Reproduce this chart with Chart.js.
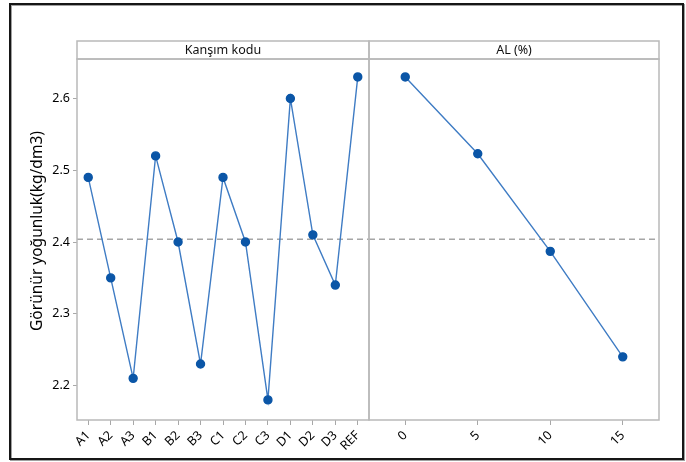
<!DOCTYPE html>
<html>
<head>
<meta charset="utf-8">
<script src="https://cdn.jsdelivr.net/npm/chart.js@4/dist/chart.umd.min.js"></script>
<style>
  html, body { margin: 0; padding: 0; background: #fff; }
  #wrap { position: relative; width: 686px; height: 462px; overflow: hidden; background: #fff; }
  canvas { position: absolute; top: 0; }
  #frame {
    position: absolute; left: 9px; top: 3px; width: 671px; height: 453px;
    border: 2px solid #161616;
    box-shadow: inset 1px 1px 0 #a0a0a0, 1px 1px 0 #a0a0a0;
    pointer-events: none;
  }
</style>
</head>
<body>
<div id="wrap">
  <canvas id="mixChart" width="370" height="462" style="left:0;width:370px;height:462px"></canvas>
  <canvas id="alChart" width="326" height="462" style="left:360px;width:326px;height:462px"></canvas>
  <div id="frame"></div>
</div>
<script>
// Main effects for apparent density (kg/dm3)
const mixCodes = ['A1', 'A2', 'A3', 'B1', 'B2', 'B3', 'C1', 'C2', 'C3', 'D1', 'D2', 'D3', 'REF'];
const mixMeans = [2.49, 2.35, 2.21, 2.52, 2.40, 2.23, 2.49, 2.40, 2.18, 2.60, 2.41, 2.34, 2.63];
const alLevels = ['0', '5', '10', '15'];
const alMeans = [2.63, 2.523, 2.387, 2.24];
const grandMean = 2.404;
const yTicks = [2.2, 2.3, 2.4, 2.5, 2.6];
const yRange = [2.152, 2.655];
const yTitle = 'Görünür yoğunluk(kg/dm3)';

const FONT = '"Noto Sans", "Open Sans", sans-serif';
const BORDER_GREY = '#b9b9b9';
const TICK_GREY = '#a8a8a8';

// Mean reference line under the data; panel box, factor header strip and axis title on top
const panelPlugin = {
  id: 'panel',
  beforeDatasetsDraw(chart) {
    const { ctx, chartArea: a } = chart;
    const y = chart.scales.y.getPixelForValue(grandMean);
    ctx.save();
    ctx.strokeStyle = '#a6a6a6';
    ctx.lineWidth = 1.5;
    ctx.setLineDash([6, 4]);
    ctx.beginPath();
    ctx.moveTo(a.left, y);
    ctx.lineTo(a.right, y);
    ctx.stroke();
    ctx.restore();
  },
  afterDraw(chart, args, opts) {
    const { ctx, chartArea: a } = chart;
    const stripH = 18;
    ctx.save();
    ctx.strokeStyle = BORDER_GREY;
    ctx.lineWidth = 1.5;
    ctx.strokeRect(a.left, a.top, a.right - a.left, a.bottom - a.top);
    ctx.strokeRect(a.left, a.top - stripH, a.right - a.left, stripH);
    ctx.fillStyle = '#111';
    ctx.font = '12.5px ' + FONT;
    ctx.textAlign = 'center';
    ctx.textBaseline = 'middle';
    ctx.fillText(opts.label, (a.left + a.right) / 2, a.top - stripH / 2);
    if (opts.title) {
      ctx.translate(38, 231);
      ctx.rotate(-Math.PI / 2);
      ctx.font = '15.5px ' + FONT;
      ctx.fillStyle = '#000';
      ctx.fillText(opts.title, 0, 0);
    }
    ctx.restore();
  }
};

function makeChart(id, labels, values, header, showY, padding) {
  return new Chart(document.getElementById(id), {
    type: 'line',
    data: {
      labels: labels,
      datasets: [{
        data: values,
        borderColor: '#3f7cc4',
        borderWidth: 1.4,
        pointBackgroundColor: '#0b56a7',
        pointBorderColor: '#0b56a7',
        pointRadius: 4,
        tension: 0
      }]
    },
    options: {
      responsive: false,
      animation: false,
      layout: { padding: padding, autoPadding: false },
      plugins: {
        legend: { display: false },
        tooltip: { enabled: false },
        panel: { label: header, title: showY ? yTitle : null }
      },
      scales: {
        x: {
          type: 'category',
          offset: true,
          grid: { display: true, drawOnChartArea: false, color: TICK_GREY, tickLength: 5 },
          border: { display: false },
          ticks: {
            autoSkip: false,
            minRotation: 45,
            maxRotation: 45,
            padding: 3,
            color: '#000',
            font: { family: FONT, size: 12.5 }
          },
          afterFit(scale) {
            scale.height = 42;
            scale.paddingLeft = 0;
            scale.paddingRight = 0;
          }
        },
        y: {
          display: showY,
          min: yRange[0],
          max: yRange[1],
          afterBuildTicks(scale) { scale.ticks = yTicks.map(v => ({ value: v })); },
          grid: { display: true, drawOnChartArea: false, color: TICK_GREY, tickLength: 4 },
          border: { display: false },
          ticks: {
            padding: 3,
            color: '#000',
            font: { family: FONT, size: 12.5 },
            callback: v => Number(v).toFixed(1)
          },
          afterFit(scale) {
            if (showY) scale.width = 77;
            scale.paddingTop = 0;
            scale.paddingBottom = 0;
          }
        }
      }
    },
    plugins: [panelPlugin]
  });
}

makeChart('mixChart', mixCodes, mixMeans, 'Kanşım kodu', true, { left: 0, right: 1, top: 59, bottom: 0 });
makeChart('alChart', alLevels, alMeans, 'AL (%)', false, { left: 9, right: 27, top: 59, bottom: 0 });
</script>
</body>
</html>
